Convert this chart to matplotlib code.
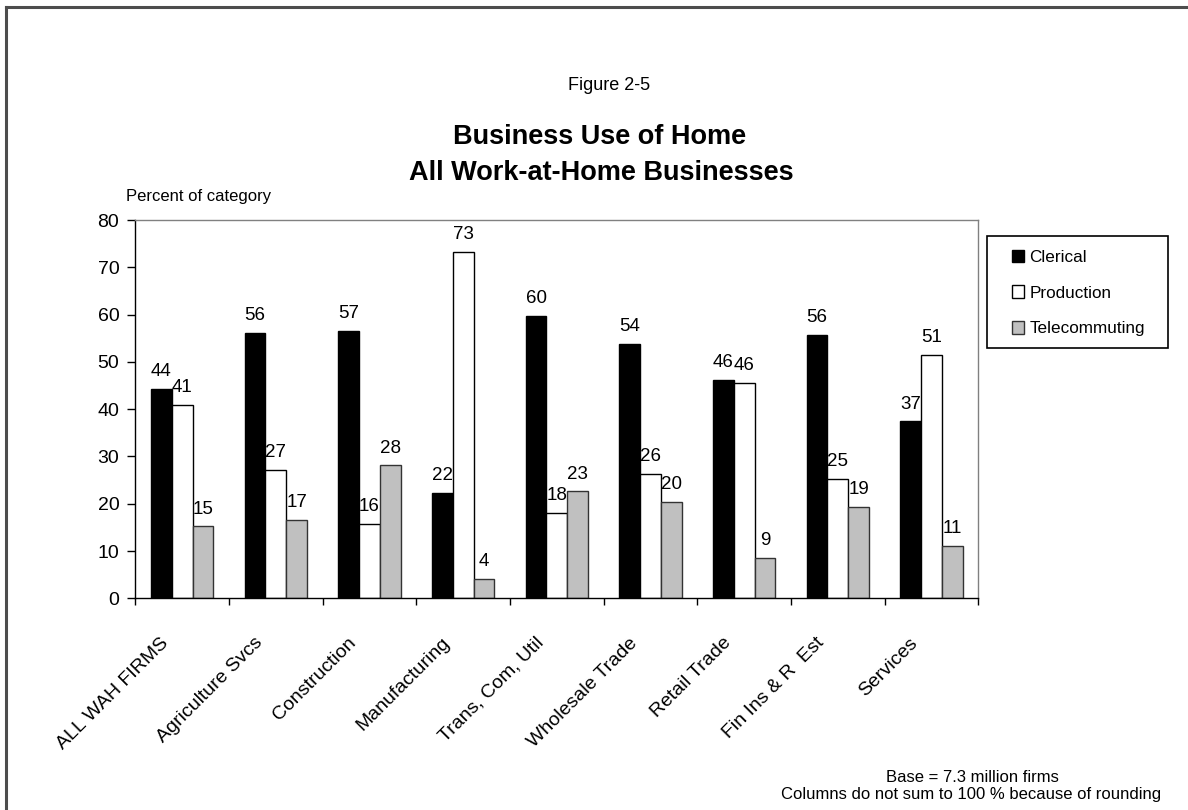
import matplotlib
matplotlib.use("Agg")
import matplotlib.pyplot as plt
import numpy as np
from matplotlib.patches import Rectangle
from matplotlib.lines import Line2D
from matplotlib.transforms import ScaledTranslation

plt.rcParams['font.family'] = ['Liberation Sans', 'DejaVu Sans']

categories = ["ALL WAH FIRMS", "Agriculture Svcs", "Construction", "Manufacturing",
              "Trans, Com, Util", "Wholesale Trade", "Retail Trade", "Fin Ins & R  Est",
              "Services"]
clerical = [44.2, 56.1, 56.6, 22.2, 59.7, 53.8, 46.2, 55.6, 37.4]
production = [40.8, 27.2, 15.7, 73.3, 18.0, 26.2, 45.6, 25.2, 51.4]
telecommuting = [15.2, 16.6, 28.1, 4.1, 22.6, 20.4, 8.6, 19.3, 11.1]
series_names = ["Clerical", "Production", "Telecommuting"]
y_ticks = [0, 10, 20, 30, 40, 50, 60, 70, 80]

W, H, DPI = 1188, 810, 100
fig = plt.figure(figsize=(W / DPI, H / DPI), dpi=DPI)
fig.patch.set_facecolor("white")

# frame around the page (top and left edges visible)
fig.add_artist(Line2D([6 / W, 1.0], [1 - 7 / H, 1 - 7 / H], transform=fig.transFigure,
                      color="#4d4d4d", lw=2.2))
fig.add_artist(Line2D([6 / W, 6 / W], [0.0, 1 - 7 / H], transform=fig.transFigure,
                      color="#4d4d4d", lw=2.2))

ax_l, ax_r, ax_t, ax_b = 135.3, 978.3, 220.0, 598.3
ax = fig.add_axes([ax_l / W, 1 - ax_b / H, (ax_r - ax_l) / W, (ax_b - ax_t) / H])

x = np.arange(len(categories))
bw = 0.222
fills = ["black", "white", "#c0c0c0"]
edges = ["black", "black", "#333333"]
handles = []
for i, (vals, name) in enumerate(zip([clerical, production, telecommuting], series_names)):
    bars = ax.bar(x + (i - 1) * bw, vals, width=bw, color=fills[i], edgecolor=edges[i],
                  linewidth=1.0, label=name, zorder=2)
    handles.append(bars)
    for b, v in zip(bars, vals):
        ax.annotate(f"{v:.0f}", (b.get_x() + b.get_width() / 2, v), xytext=(0, 9.3),
                    textcoords="offset points", ha="center", va="baseline",
                    fontsize=13.5, color="black")

ax.set_xlim(-0.5, len(categories) - 0.5)
ax.set_ylim(0, 80)
ax.set_yticks(y_ticks)
ax.tick_params(axis="y", direction="out", length=5.5, width=1, labelsize=14, pad=6)

ax.set_xticks(x)
ax.set_xticklabels(categories, rotation=45, ha="right", va="top", rotation_mode="anchor",
                   fontsize=14)
ax.set_xticks(np.arange(len(categories) + 1) - 0.5, minor=True)
ax.tick_params(axis="x", which="major", length=0, pad=26)
ax.tick_params(axis="x", which="minor", direction="out", length=5, width=1)
shift = ScaledTranslation(-22 / DPI, 0, fig.dpi_scale_trans)
for lab in ax.get_xticklabels():
    lab.set_transform(lab.get_transform() + shift)

for side in ("top", "right"):
    ax.spines[side].set_color("#808080")
    ax.spines[side].set_linewidth(1.0)
for side in ("left", "bottom"):
    ax.spines[side].set_color("black")
    ax.spines[side].set_linewidth(1.0)

# legend box
fig.add_artist(Rectangle((987 / W, 1 - 348 / H), (1168 - 987) / W, (348 - 236) / H,
                         transform=fig.transFigure, facecolor="white", edgecolor="black",
                         lw=1.2))
leg = fig.legend(handles=handles, labels=series_names, loc="upper left",
                 bbox_to_anchor=(998 / W, 1 - 236 / H), frameon=False, fontsize=12.3,
                 handlelength=0.75, handleheight=0.75, handletextpad=0.3,
                 labelspacing=1.2, borderpad=0.3)

fig.text(609 / W, 1 - 85 / H, "Figure 2-5", ha="center", va="center", fontsize=13)
fig.text(600 / W, 1 - 137 / H, "Business Use of Home", ha="center", va="center",
         fontsize=19.5, fontweight="bold")
fig.text(601 / W, 1 - 173 / H, "All Work-at-Home Businesses", ha="center", va="center",
         fontsize=19.5, fontweight="bold")
fig.text(126 / W, 1 - 197 / H, "Percent of category", ha="left", va="center", fontsize=12)
fig.text(972 / W, 1 - 777 / H, "Base = 7.3 million firms", ha="center", va="center",
         fontsize=12)
fig.text(971 / W, 1 - 795 / H, "Columns do not sum to 100 % because of rounding",
         ha="center", va="center", fontsize=12)

fig.savefig("out.png", dpi=DPI)
